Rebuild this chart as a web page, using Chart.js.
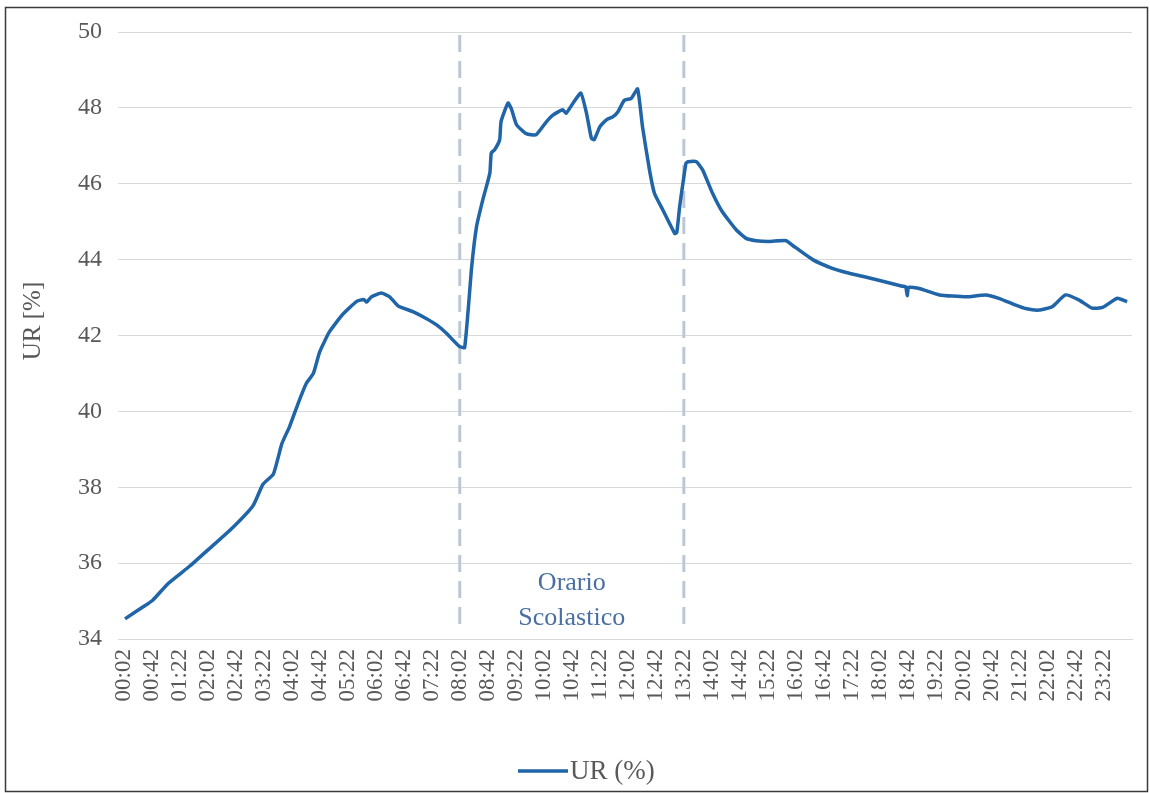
<!DOCTYPE html>
<html>
<head>
<meta charset="utf-8">
<script src="https://cdn.jsdelivr.net/npm/chart.js@4.4.1/dist/chart.umd.min.js"></script>
<style>
  html, body { margin: 0; padding: 0; background: #fff; }
  #wrap { width: 1150px; height: 793px; position: relative; }
</style>
</head>
<body>
<div id="wrap"><canvas id="urChart" width="1150" height="793"></canvas></div>
<script>
// x axis tick labels (every 40 min)
const tickLabels = [
  '00:02','00:42','01:22','02:02','02:42','03:22','04:02','04:42','05:22','06:02',
  '06:42','07:22','08:02','08:42','09:22','10:02','10:42','11:22','12:02','12:42',
  '13:22','14:02','14:42','15:22','16:02','16:42','17:22','18:02','18:42','19:22',
  '20:02','20:42','21:22','22:02','22:42','23:22'
];

// sample times, minutes after midnight
const sampleMinutes = [
  4, 30, 44, 66, 97, 125, 158, 187, 201, 216,
  228, 239, 251, 263, 273, 282, 296, 315, 335, 345,
  349, 356, 370, 382, 394, 415, 434, 449, 463, 481,
  489, 499, 506, 515, 525, 527, 532, 539, 541, 551,
  556, 563, 577, 591, 606, 615, 629, 634, 644, 655,
  663, 670, 674, 682, 691, 701, 708, 717, 727, 736,
  743, 753, 760, 772, 789, 792, 796, 800, 805, 808,
  820, 829, 843, 857, 877, 891, 905, 924, 948, 957,
  986, 1014, 1034, 1057, 1086, 1114, 1119, 1121, 1123, 1138,
  1167, 1205, 1233, 1252, 1276, 1290, 1309, 1328, 1347, 1366,
  1385, 1400, 1421, 1435
];

// relative humidity UR (%)
const urValues = [
  34.53, 34.85, 35.03, 35.47, 35.93, 36.39, 36.94, 37.52, 38.08, 38.35,
  39.15, 39.60, 40.20, 40.74, 41.00, 41.57, 42.10, 42.56, 42.90, 42.95,
  42.88, 43.02, 43.12, 43.02, 42.78, 42.63, 42.45, 42.28, 42.06, 41.72,
  41.68, 43.80, 44.87, 45.58, 46.28, 46.81, 46.90, 47.16, 47.64, 48.13,
  47.96, 47.56, 47.32, 47.29, 47.64, 47.81, 47.95, 47.86, 48.13, 48.39,
  47.86, 47.20, 47.16, 47.50, 47.68, 47.77, 47.90, 48.20, 48.25, 48.50,
  47.50, 46.36, 45.75, 45.31, 44.69, 44.72, 45.39, 45.92, 46.54, 46.58,
  46.58, 46.36, 45.75, 45.26, 44.78, 44.56, 44.50, 44.48, 44.50, 44.38,
  44.00, 43.77, 43.66, 43.56, 43.43, 43.30, 43.28, 43.05, 43.27, 43.24,
  43.07, 43.02, 43.07, 42.98, 42.80, 42.71, 42.67, 42.76, 43.07, 42.94,
  42.72, 42.74, 42.98, 42.89
];

// school hours markers
const schoolStart = '08:02';
const schoolEnd   = '13:22';
const schoolText  = ['Orario', 'Scolastico'];
const seriesName  = 'UR (%)';
const yTitle      = 'UR [%]';

function toMinutes(label) {
  const parts = label.split(':');
  return parseInt(parts[0], 10) * 60 + parseInt(parts[1], 10);
}

const serif = '"Liberation Serif", "Times New Roman", serif';
const textGrey = '#595959';
const lineBlue = '#1f65a7';

// white background, outer frame, y title and legend
const framePlugin = {
  id: 'frame',
  beforeDraw(chart) {
    const c = chart.ctx;
    c.save();
    c.fillStyle = '#ffffff';
    c.fillRect(0, 0, chart.width, chart.height);
    c.restore();
  },
  afterDraw(chart) {
    const c = chart.ctx;
    c.save();
    c.strokeStyle = '#3a3a3a';
    c.lineWidth = 1.5;
    c.strokeRect(5.5, 7.5, 1142, 784);

    // y axis title
    c.fillStyle = textGrey;
    c.font = '25px ' + serif;
    c.textAlign = 'center';
    c.textBaseline = 'middle';
    c.translate(33, 321);
    c.rotate(-Math.PI / 2);
    c.fillText(yTitle, 0, 0);
    c.restore();

    // legend
    c.save();
    c.strokeStyle = lineBlue;
    c.lineWidth = 3.5;
    c.beginPath();
    c.moveTo(518, 771);
    c.lineTo(568, 771);
    c.stroke();
    c.fillStyle = textGrey;
    c.font = '27px ' + serif;
    c.textAlign = 'left';
    c.textBaseline = 'middle';
    c.fillText(seriesName, 570, 772);
    c.restore();
  }
};

// dashed lines around school hours and label
const schoolPlugin = {
  id: 'school',
  beforeDatasetsDraw(chart) {
    const c = chart.ctx;
    const xs = chart.scales.x;
    const area = chart.chartArea;
    const x1 = xs.getPixelForValue(toMinutes(schoolStart));
    const x2 = xs.getPixelForValue(toMinutes(schoolEnd));
    c.save();
    c.strokeStyle = '#bcc7d6';
    c.lineWidth = 3;
    c.setLineDash([17, 9]);
    [x1, x2].forEach(x => {
      c.beginPath();
      c.moveTo(x, area.top + 3);
      c.lineTo(x, area.bottom - 14);
      c.stroke();
    });
    c.setLineDash([]);
    c.fillStyle = '#4a6fa0';
    c.font = '26px ' + serif;
    c.textAlign = 'center';
    c.textBaseline = 'middle';
    const xm = (x1 + x2) / 2;
    c.fillText(schoolText[0], xm, area.bottom - 56);
    c.fillText(schoolText[1], xm, area.bottom - 21);
    c.restore();
  }
};

const ctx = document.getElementById('urChart').getContext('2d');
new Chart(ctx, {
  type: 'line',
  data: {
    datasets: [{
      label: seriesName,
      data: sampleMinutes.map((m, i) => ({ x: m, y: urValues[i] })),
      borderColor: lineBlue,
      backgroundColor: lineBlue,
      borderWidth: 3.5,
      pointRadius: 0,
      tension: 0.15,
      fill: false
    }]
  },
  options: {
    responsive: false,
    animation: false,
    layout: { padding: { left: 0, right: 18, top: 32, bottom: 0 } },
    plugins: {
      legend: { display: false },
      tooltip: { enabled: false }
    },
    scales: {
      x: {
        type: 'linear',
        min: -6,
        max: 1442,
        afterBuildTicks(scale) {
          scale.ticks = tickLabels.map(t => ({ value: toMinutes(t) }));
        },
        afterFit(scale) { scale.height = 154; },
        ticks: {
          autoSkip: false,
          minRotation: 90,
          maxRotation: 90,
          padding: 2,
          color: textGrey,
          font: { family: serif, size: 23 },
          callback(value) {
            const i = tickLabels.findIndex(t => toMinutes(t) === value);
            return i >= 0 ? tickLabels[i] : '';
          }
        },
        grid: { display: false },
        border: { display: true, color: '#d9d9d9' }
      },
      y: {
        min: 34,
        max: 50,
        afterFit(scale) { scale.width = 118; },
        ticks: {
          stepSize: 2,
          padding: 16,
          color: textGrey,
          font: { family: serif, size: 24 }
        },
        grid: { color: '#d9d9d9', lineWidth: 1, drawTicks: false },
        border: { display: false }
      }
    }
  },
  plugins: [framePlugin, schoolPlugin]
});
</script>
</body>
</html>
